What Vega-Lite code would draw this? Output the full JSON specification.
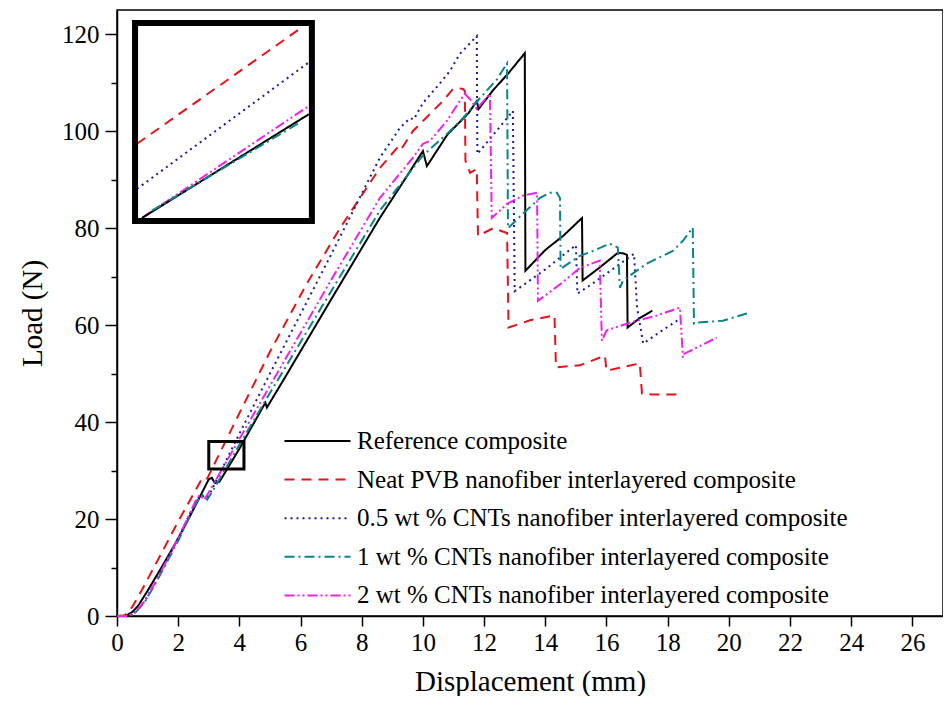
{
  "$schema": "https://vega.github.io/schema/vega-lite/v6.json",
  "width": 826,
  "height": 606,
  "padding": {"left": 18, "top": 10, "right": 0, "bottom": 0},
  "background": "white",
  "config": {
    "view": {"stroke": "black", "strokeWidth": 1.5},
    "font": "Liberation Serif",
    "style": {"guide-label": {"font": "Liberation Serif"}, "guide-title": {"font": "Liberation Serif"}},
    "axis": {
      "labelFont": "Liberation Serif",
      "titleFont": "Liberation Serif",
      "labelFontSize": 25,
      "titleFontSize": 29,
      "titleFontWeight": "normal",
      "labelColor": "black",
      "titleColor": "black",
      "domainColor": "black",
      "tickColor": "black",
      "domainWidth": 1.5,
      "tickWidth": 1.5,
      "grid": false
    },
    "legend": {
      "labelFont": "Liberation Serif",
      "labelFontSize": 25,
      "labelColor": "black"
    }
  },
  "datasets": {
    "curves": [
      {"s":"R","p":"m","x":0,"y":0},{"s":"R","p":"m","x":0.3,"y":0.1},{"s":"R","p":"m","x":0.5,"y":0.8},{"s":"R","p":"m","x":0.7,"y":2.2},{"s":"R","p":"m","x":1.0,"y":5.2},{"s":"R","p":"m","x":1.5,"y":10.5},{"s":"R","p":"m","x":2.0,"y":16},{"s":"R","p":"m","x":2.5,"y":22},{"s":"R","p":"m","x":3.0,"y":28.2},{"s":"R","p":"m","x":3.1,"y":28.5},{"s":"R","p":"m","x":3.2,"y":27.4},{"s":"R","p":"m","x":3.35,"y":27.7},{"s":"R","p":"m","x":4.0,"y":34.5},{"s":"R","p":"m","x":4.85,"y":44.0},{"s":"R","p":"m","x":4.9,"y":43.0},{"s":"R","p":"m","x":5.5,"y":49.3},{"s":"R","p":"m","x":7.0,"y":65.3},{"s":"R","p":"m","x":8.59,"y":82.1},{"s":"R","p":"m","x":9.3,"y":89},{"s":"R","p":"m","x":10.0,"y":95.9},{"s":"R","p":"m","x":10.13,"y":92.8},{"s":"R","p":"m","x":10.8,"y":99.3},{"s":"R","p":"m","x":11.5,"y":103.8},{"s":"R","p":"m","x":11.76,"y":106.2},{"s":"R","p":"m","x":11.82,"y":104.6},{"s":"R","p":"m","x":12.3,"y":108.5},{"s":"R","p":"m","x":12.8,"y":112},{"s":"R","p":"m","x":13.33,"y":116.1},{"s":"R","p":"m","x":13.35,"y":71.2},{"s":"R","p":"m","x":14.0,"y":75.5},{"s":"R","p":"m","x":14.6,"y":78.5},{"s":"R","p":"m","x":15.2,"y":82.1},{"s":"R","p":"m","x":15.22,"y":69.2},{"s":"R","p":"m","x":15.8,"y":72},{"s":"R","p":"m","x":16.37,"y":74.9},{"s":"R","p":"m","x":16.55,"y":74.8},{"s":"R","p":"m","x":16.67,"y":74.5},{"s":"R","p":"m","x":16.69,"y":59.5},{"s":"R","p":"m","x":17.1,"y":61.5},{"s":"R","p":"m","x":17.5,"y":63.0},

      {"s":"N","p":"m","x":0,"y":0},{"s":"N","p":"m","x":0.2,"y":0},{"s":"N","p":"m","x":0.35,"y":0.6},{"s":"N","p":"m","x":0.5,"y":1.9},{"s":"N","p":"m","x":0.8,"y":5.2},{"s":"N","p":"m","x":1.5,"y":13.5},{"s":"N","p":"m","x":2.0,"y":19.5},{"s":"N","p":"m","x":2.6,"y":26.3},{"s":"N","p":"m","x":2.75,"y":28},{"s":"N","p":"m","x":2.9,"y":27.8},{"s":"N","p":"m","x":3.0,"y":29},{"s":"N","p":"m","x":3.92,"y":40.8},{"s":"N","p":"m","x":5.0,"y":54.5},{"s":"N","p":"m","x":6.2,"y":68.5},{"s":"N","p":"m","x":7.29,"y":80},{"s":"N","p":"m","x":8.59,"y":92.4},{"s":"N","p":"m","x":9.15,"y":96.5},{"s":"N","p":"m","x":9.25,"y":95.9},{"s":"N","p":"m","x":9.67,"y":100},{"s":"N","p":"m","x":10.33,"y":104.2},{"s":"N","p":"m","x":10.65,"y":106.2},{"s":"N","p":"m","x":10.98,"y":108.7},{"s":"N","p":"m","x":11.14,"y":108.9},{"s":"N","p":"m","x":11.31,"y":108.7},{"s":"N","p":"m","x":11.37,"y":108.3},{"s":"N","p":"m","x":11.39,"y":93.9},{"s":"N","p":"m","x":11.54,"y":91.4},{"s":"N","p":"m","x":11.76,"y":92.2},{"s":"N","p":"m","x":11.8,"y":78.4},{"s":"N","p":"m","x":12.3,"y":80},{"s":"N","p":"m","x":12.75,"y":79},{"s":"N","p":"m","x":12.8,"y":59.5},{"s":"N","p":"m","x":13.5,"y":61},{"s":"N","p":"m","x":14.3,"y":62},{"s":"N","p":"m","x":14.35,"y":51.3},{"s":"N","p":"m","x":15.13,"y":51.7},{"s":"N","p":"m","x":15.95,"y":53.7},{"s":"N","p":"m","x":16.0,"y":50.6},{"s":"N","p":"m","x":17.09,"y":52.1},{"s":"N","p":"m","x":17.16,"y":45.9},{"s":"N","p":"m","x":17.5,"y":45.7},{"s":"N","p":"m","x":18.3,"y":45.7},

      {"s":"B","p":"m","x":0,"y":0},{"s":"B","p":"m","x":0.4,"y":0},{"s":"B","p":"m","x":0.6,"y":0.8},{"s":"B","p":"m","x":0.9,"y":3},{"s":"B","p":"m","x":1.3,"y":7.5},{"s":"B","p":"m","x":2.0,"y":16},{"s":"B","p":"m","x":2.6,"y":24},{"s":"B","p":"m","x":2.75,"y":25},{"s":"B","p":"m","x":2.9,"y":24.3},{"s":"B","p":"m","x":3.0,"y":24.8},{"s":"B","p":"m","x":4.0,"y":37.6},{"s":"B","p":"m","x":5.0,"y":50},{"s":"B","p":"m","x":7.06,"y":75.3},{"s":"B","p":"m","x":8.59,"y":94.5},{"s":"B","p":"m","x":9.25,"y":100.7},{"s":"B","p":"m","x":9.58,"y":102.7},{"s":"B","p":"m","x":9.7,"y":102.4},{"s":"B","p":"m","x":10.0,"y":105.8},{"s":"B","p":"m","x":10.56,"y":109.9},{"s":"B","p":"m","x":10.88,"y":112.4},{"s":"B","p":"m","x":11.2,"y":115.9},{"s":"B","p":"m","x":11.44,"y":117.5},{"s":"B","p":"m","x":11.76,"y":119.6},{"s":"B","p":"m","x":11.78,"y":95.3},{"s":"B","p":"m","x":12.75,"y":102.7},{"s":"B","p":"m","x":12.94,"y":104.2},{"s":"B","p":"m","x":13.0,"y":67},{"s":"B","p":"m","x":14.0,"y":71.5},{"s":"B","p":"m","x":15.0,"y":76.5},{"s":"B","p":"m","x":15.05,"y":66.5},{"s":"B","p":"m","x":15.6,"y":68.8},{"s":"B","p":"m","x":16.3,"y":72},{"s":"B","p":"m","x":16.9,"y":74.7},{"s":"B","p":"m","x":17.0,"y":63.6},{"s":"B","p":"m","x":17.2,"y":56.2},{"s":"B","p":"m","x":17.8,"y":58.8},{"s":"B","p":"m","x":18.4,"y":61.3},

      {"s":"T","p":"m","x":0,"y":0},{"s":"T","p":"m","x":0.4,"y":0},{"s":"T","p":"m","x":0.6,"y":0.7},{"s":"T","p":"m","x":0.9,"y":2.8},{"s":"T","p":"m","x":1.3,"y":7.2},{"s":"T","p":"m","x":2.0,"y":15.5},{"s":"T","p":"m","x":2.6,"y":23.5},{"s":"T","p":"m","x":2.8,"y":25},{"s":"T","p":"m","x":2.95,"y":24},{"s":"T","p":"m","x":3.1,"y":25.5},{"s":"T","p":"m","x":4.0,"y":35.3},{"s":"T","p":"m","x":5.0,"y":46},{"s":"T","p":"m","x":7.0,"y":67},{"s":"T","p":"m","x":8.59,"y":83.6},{"s":"T","p":"m","x":10.0,"y":95},{"s":"T","p":"m","x":10.78,"y":99.4},{"s":"T","p":"m","x":11.31,"y":102.7},{"s":"T","p":"m","x":11.86,"y":106.8},{"s":"T","p":"m","x":12.42,"y":110.7},{"s":"T","p":"m","x":12.75,"y":114},{"s":"T","p":"m","x":12.78,"y":80},{"s":"T","p":"m","x":13.27,"y":83},{"s":"T","p":"m","x":13.82,"y":86.2},{"s":"T","p":"m","x":14.15,"y":87.3},{"s":"T","p":"m","x":14.38,"y":87.3},{"s":"T","p":"m","x":14.48,"y":86.2},{"s":"T","p":"m","x":14.5,"y":71.6},{"s":"T","p":"m","x":15.13,"y":74.3},{"s":"T","p":"m","x":15.56,"y":75.3},{"s":"T","p":"m","x":16.1,"y":76.8},{"s":"T","p":"m","x":16.37,"y":76},{"s":"T","p":"m","x":16.44,"y":67.7},{"s":"T","p":"m","x":16.54,"y":69.2},{"s":"T","p":"m","x":17.32,"y":72.7},{"s":"T","p":"m","x":18.17,"y":75.3},{"s":"T","p":"m","x":18.5,"y":77.4},{"s":"T","p":"m","x":18.82,"y":80.1},{"s":"T","p":"m","x":18.86,"y":60.3},{"s":"T","p":"m","x":18.95,"y":60.5},{"s":"T","p":"m","x":19.8,"y":60.9},{"s":"T","p":"m","x":20.59,"y":62.4},

      {"s":"M","p":"m","x":0,"y":0},{"s":"M","p":"m","x":0.35,"y":0},{"s":"M","p":"m","x":0.6,"y":0.8},{"s":"M","p":"m","x":0.9,"y":3},{"s":"M","p":"m","x":1.3,"y":7.5},{"s":"M","p":"m","x":2.0,"y":16},{"s":"M","p":"m","x":2.55,"y":23.5},{"s":"M","p":"m","x":2.7,"y":25},{"s":"M","p":"m","x":2.85,"y":24},{"s":"M","p":"m","x":3.0,"y":25.5},{"s":"M","p":"m","x":4.0,"y":36.5},{"s":"M","p":"m","x":5.0,"y":47.5},{"s":"M","p":"m","x":7.0,"y":69.3},{"s":"M","p":"m","x":8.59,"y":86.2},{"s":"M","p":"m","x":9.67,"y":94.5},{"s":"M","p":"m","x":10.0,"y":97.4},{"s":"M","p":"m","x":10.23,"y":98},{"s":"M","p":"m","x":10.78,"y":102.1},{"s":"M","p":"m","x":11.2,"y":106.2},{"s":"M","p":"m","x":11.37,"y":107.7},{"s":"M","p":"m","x":11.54,"y":106.6},{"s":"M","p":"m","x":11.76,"y":104.6},{"s":"M","p":"m","x":12.19,"y":107.7},{"s":"M","p":"m","x":12.25,"y":82.1},{"s":"M","p":"m","x":12.75,"y":85},{"s":"M","p":"m","x":13.27,"y":86.7},{"s":"M","p":"m","x":13.73,"y":87.3},{"s":"M","p":"m","x":13.76,"y":65},{"s":"M","p":"m","x":14.5,"y":68.5},{"s":"M","p":"m","x":15.13,"y":71.8},{"s":"M","p":"m","x":15.78,"y":73.3},{"s":"M","p":"m","x":15.85,"y":56.8},{"s":"M","p":"m","x":16.0,"y":58.9},{"s":"M","p":"m","x":16.76,"y":60.5},{"s":"M","p":"m","x":17.65,"y":62},{"s":"M","p":"m","x":18.4,"y":63.6},{"s":"M","p":"m","x":18.5,"y":53.3},{"s":"M","p":"m","x":18.55,"y":54.1},{"s":"M","p":"m","x":19.6,"y":57.4},

      {"s":"N","p":"i","x":0.654,"y":97.4},{"s":"N","p":"i","x":5.95,"y":121.0},
      {"s":"B","p":"i","x":0.654,"y":88.1},{"s":"B","p":"i","x":6.27,"y":114.2},
      {"s":"M","p":"i","x":0.817,"y":82.1},{"s":"M","p":"i","x":6.27,"y":105.2},
      {"s":"R","p":"i","x":0.817,"y":82.1},{"s":"R","p":"i","x":6.27,"y":103.5},
      {"s":"T","p":"i","x":1.14,"y":83.6},{"s":"T","p":"i","x":5.95,"y":101.7}
    ],
    "boxes": [
      {"b":"big","x1":0.59,"x2":6.37,"y1":81.5,"y2":122.3},
      {"b":"small","x1":3.0,"x2":4.15,"y1":30.3,"y2":36.0}
    ]
  },
  "layer": [
    {
      "data": {"name": "curves"},
      "mark": {"type": "line", "strokeWidth": 2},
      "encoding": {
        "x": {
          "field": "x", "type": "quantitative",
          "scale": {"domain": [0, 27], "nice": false, "zero": false},
          "axis": {
            "title": "Displacement (mm)",
            "labelFont": "Liberation Serif",
            "titleFont": "Liberation Serif",
            "values": [0,1,2,3,4,5,6,7,8,9,10,11,12,13,14,15,16,17,18,19,20,21,22,23,24,25,26],
            "labelExpr": "datum.value % 2 == 0 ? datum.label : ''",
            "tickSize": {"condition": {"test": "datum.value % 2 == 0", "value": 10}, "value": 5},
            "labelPadding": 4,
            "titlePadding": 12,
            "labelFlush": false,
            "encode": {"labels": {"update": {"font": {"value": "Liberation Serif"}}}}
          }
        },
        "y": {
          "field": "y", "type": "quantitative",
          "scale": {"domain": [0, 125], "nice": false},
          "axis": {
            "title": "Load (N)",
            "labelFont": "Liberation Serif",
            "titleFont": "Liberation Serif",
            "values": [0,10,20,30,40,50,60,70,80,90,100,110,120],
            "labelExpr": "datum.value % 20 == 0 ? datum.label : ''",
            "tickSize": {"condition": {"test": "datum.value % 20 == 0", "value": 12}, "value": 6},
            "labelPadding": 6,
            "titlePadding": 14,
            "labelFlush": false,
            "encode": {"labels": {"update": {"font": {"value": "Liberation Serif"}}}}
          }
        },
        "color": {
          "field": "s", "type": "nominal",
          "scale": {"domain": ["R","N","B","T","M"], "range": ["#000000","#e8101a","#1a1aa0","#0a8585","#f020f0"]},
          "legend": {
            "orient": "none",
            "legendX": 184.5,
            "legendY": 415,
            "title": null,
            "padding": 0,
            "labelFont": "Liberation Serif",
            "symbolType": "M-2.2,0L2.2,0",
            "symbolSize": 900,
            "symbolStrokeWidth": 2,
            "symbolFillColor": "transparent",
            "labelOffset": 23.5,
            "rowPadding": 9.6,
            "labelLimit": 1000,
            "labelExpr": "datum.label == 'R' ? 'Reference composite' : datum.label == 'N' ? 'Neat PVB nanofiber interlayered composite' : datum.label == 'B' ? '0.5 wt % CNTs nanofiber interlayered composite' : datum.label == 'T' ? '1 wt % CNTs nanofiber interlayered composite' : '2 wt % CNTs nanofiber interlayered composite'"
          }
        },
        "strokeDash": {
          "field": "s", "type": "nominal",
          "scale": {"domain": ["R","N","B","T","M"], "range": [[1,0],[10,7],[2,4],[10,4,2,4],[10,3,2,3,2,3]]}
        },
        "detail": {"field": "p"}
      }
    },
    {
      "data": {"name": "boxes"},
      "transform": [{"filter": "datum.b == 'big'"}],
      "mark": {"type": "rect", "filled": false, "stroke": "black", "strokeWidth": 6},
      "encoding": {
        "x": {"field": "x1", "type": "quantitative"},
        "x2": {"field": "x2"},
        "y": {"field": "y1", "type": "quantitative"},
        "y2": {"field": "y2"}
      }
    },
    {
      "data": {"name": "boxes"},
      "transform": [{"filter": "datum.b == 'small'"}],
      "mark": {"type": "rect", "filled": false, "stroke": "black", "strokeWidth": 3},
      "encoding": {
        "x": {"field": "x1", "type": "quantitative"},
        "x2": {"field": "x2"},
        "y": {"field": "y1", "type": "quantitative"},
        "y2": {"field": "y2"}
      }
    }
  ]
}
